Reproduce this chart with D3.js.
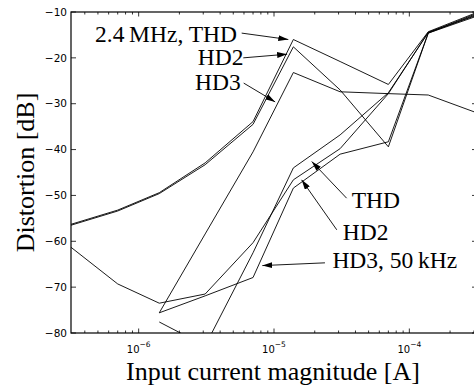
<!DOCTYPE html>
<html lang="en">
<head>
  <meta charset="UTF-8" />
  <script src="https://d3js.org/d3.v7.min.js"></script>
  <title>Distortion vs input current</title>
  <style>
    body { margin: 0; background: #fff; }
  </style>
</head>
<body>
  <svg width="474" height="387"></svg>

  <script>
    const width = 474;
    const height = 387;
    const margin = { left: 71, top: 12, right: 477, bottom: 333 };

    // input current [A] of the measured points
    const current = [3.16e-7, 7.0e-7, 1.42e-6, 3.1e-6, 7.0e-6, 1.39e-5, 3.08e-5, 7.0e-5, 1.38e-4, 3.16e-4];

    // 2.4 MHz
    const thdHF = [-56.3, -53.2, -49.4, -42.9, -33.9, -16.0, -20.8, -25.8, -14.3, -10.1];
    const hd2HF = [-56.5, -53.4, -49.6, -43.3, -34.5, -17.6, -27.0, -39.4, -14.6, -10.5];
    const hd3HF = [null, null, -75.6, -58.4, -40.5, -23.2, -27.4, -27.8, -28.1, -32.0];

    // 50 kHz
    const thdLF = [null, null, -77.6, -82.8, -62.5, -44.0, -36.8, -27.6, -14.5, -10.3];
    const hd2LF = [-61.3, -69.3, -73.5, -71.5, -60.3, -46.6, -39.8, -27.8, -14.4, -10.7];
    const hd3LF = [null, null, -75.6, -71.9, -67.9, -48.4, -41.0, -38.3, -14.6, -10.9];

    const series = [thdHF, hd2HF, hd3HF, thdLF, hd2LF, hd3LF];

    const yTicks = [-80, -70, -60, -50, -40, -30, -20, -10];
    const xTicks = [1e-6, 1e-5, 1e-4];

    // annotations: label, text position (A, dB), arrow start, arrow tip
    const notes = [
      { text: "2.4\u2009MHz, THD", at: [4.76e-7, -16.5], from: [5.77e-6, -14.6], to: [1.276e-5, -16.0] },
      { text: "HD2", at: [2.73e-6, -21.6], from: [5.93e-6, -20.0], to: [1.25e-5, -19.2] },
      { text: "HD3", at: [2.61e-6, -27.0], from: [5.97e-6, -25.5], to: [1.02e-5, -29.6] },
      { text: "THD", at: [3.75e-5, -52.7], from: [3.44e-5, -50.6], to: [1.90e-5, -42.6] },
      { text: "HD2", at: [3.22e-5, -59.7], from: [2.91e-5, -57.5], to: [1.60e-5, -46.6] },
      { text: "HD3, 50\u2009kHz", at: [2.70e-5, -65.8], from: [2.38e-5, -64.7], to: [8.2e-6, -65.3] }
    ];

    const x = d3.scaleLog()
      .domain([Math.pow(10, -6.5), Math.pow(10, -3.5)])
      .range([margin.left, margin.right]);

    const y = d3.scaleLinear()
      .domain([-80, -10])
      .range([margin.bottom, margin.top]);

    const svg = d3.select("svg");

    svg.append("defs").append("clipPath")
      .attr("id", "plot")
      .append("rect")
      .attr("x", margin.left)
      .attr("y", margin.top)
      .attr("width", margin.right - margin.left)
      .attr("height", margin.bottom - margin.top);

    svg.append("defs").append("marker")
      .attr("id", "head")
      .attr("viewBox", "0 0 10 6")
      .attr("refX", 10)
      .attr("refY", 3)
      .attr("markerWidth", 10)
      .attr("markerHeight", 6)
      .attr("markerUnits", "userSpaceOnUse")
      .attr("orient", "auto")
      .append("path")
      .attr("d", "M0,0 L10,3 L0,6 Z")
      .attr("fill", "#000");

    // curves
    const line = d3.line()
      .defined(d => d[1] != null)
      .x(d => x(d[0]))
      .y(d => y(d[1]));

    svg.append("g")
      .attr("clip-path", "url(#plot)")
      .selectAll("path")
      .data(series)
      .enter()
      .append("path")
      .attr("d", s => line(s.map((v, i) => [current[i], v])))
      .attr("fill", "none")
      .attr("stroke", "#000")
      .attr("stroke-width", 0.9);

    // axes, ticks pointing inward on all four sides
    const axes = svg.append("g").attr("font-family", "DejaVu Sans, sans-serif").attr("font-size", 10.5);

    const minor = x.ticks(30).filter(v => v >= x.domain()[0] && v <= x.domain()[1]);
    const isMajor = v => xTicks.some(t => Math.abs(t - v) / t < 1e-6);

    [margin.bottom, margin.top].forEach((py, k) => {
      const dir = k === 0 ? -1 : 1;
      axes.append("g")
        .selectAll("line")
        .data(minor)
        .enter()
        .append("line")
        .attr("x1", d => x(d))
        .attr("x2", d => x(d))
        .attr("y1", py)
        .attr("y2", d => py + dir * (isMajor(d) ? 4.5 : 2.5))
        .attr("stroke", "#000")
        .attr("stroke-width", 0.8);
    });

    [margin.left, margin.right].forEach((px, k) => {
      const dir = k === 0 ? 1 : -1;
      axes.append("g")
        .selectAll("line")
        .data(yTicks)
        .enter()
        .append("line")
        .attr("x1", px)
        .attr("x2", px + dir * 5)
        .attr("y1", d => y(d))
        .attr("y2", d => y(d))
        .attr("stroke", "#000")
        .attr("stroke-width", 0.8);
    });

    axes.append("rect")
      .attr("x", margin.left)
      .attr("y", margin.top)
      .attr("width", margin.right - margin.left)
      .attr("height", margin.bottom - margin.top)
      .attr("fill", "none")
      .attr("stroke", "#000")
      .attr("stroke-width", 1.2);

    axes.append("g")
      .selectAll("text")
      .data(yTicks)
      .enter()
      .append("text")
      .attr("x", margin.left - 4)
      .attr("y", d => y(d))
      .attr("dy", "0.35em")
      .attr("text-anchor", "end")
      .text(d => d3.format("d")(d).replace("-", "\u2212"));

    const xl = axes.append("g")
      .selectAll("text")
      .data(xTicks)
      .enter()
      .append("text")
      .attr("x", d => x(d))
      .attr("y", margin.bottom + 19.7)
      .attr("text-anchor", "middle")
      .attr("font-size", 10);
    xl.append("tspan").text("10");
    xl.append("tspan")
      .attr("dy", -6)
      .attr("font-size", 7.5)
      .text(d => "\u2212" + Math.round(-Math.log10(d)));

    // axis titles
    svg.append("text")
      .attr("x", (margin.left + margin.right) / 2 - 1)
      .attr("y", 380)
      .attr("text-anchor", "middle")
      .attr("font-family", "Liberation Serif, serif")
      .attr("font-size", 26)
      .text("Input current magnitude [A]");

    svg.append("text")
      .attr("transform", `translate(34, ${(margin.top + margin.bottom) / 2}) rotate(-90)`)
      .attr("text-anchor", "middle")
      .attr("font-family", "Liberation Serif, serif")
      .attr("font-size", 26)
      .text("Distortion [dB]");

    // labels with arrows
    const ann = svg.append("g");

    ann.selectAll("text")
      .data(notes)
      .enter()
      .append("text")
      .attr("x", d => x(d.at[0]))
      .attr("y", d => y(d.at[1]))
      .attr("font-family", "Liberation Serif, serif")
      .attr("font-size", 23.5)
      .text(d => d.text);

    ann.selectAll("line")
      .data(notes)
      .enter()
      .append("line")
      .attr("x1", d => x(d.from[0]))
      .attr("y1", d => y(d.from[1]))
      .attr("x2", d => x(d.to[0]))
      .attr("y2", d => y(d.to[1]))
      .attr("stroke", "#000")
      .attr("stroke-width", 0.9)
      .attr("marker-end", "url(#head)");
  </script>
</body>
</html>
